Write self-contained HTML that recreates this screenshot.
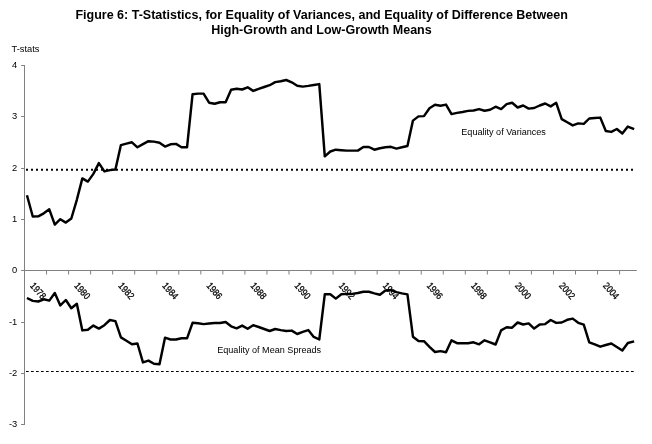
<!DOCTYPE html>
<html><head><meta charset="utf-8"><title>Figure 6</title>
<style>
html,body{margin:0;padding:0;background:#fff;}
body{width:652px;height:444px;overflow:hidden;font-family:"Liberation Sans",sans-serif;}
svg{display:block;}
text{font-family:"Liberation Sans",sans-serif;fill:#000;}
.t{font-weight:bold;font-size:12.52px;text-anchor:middle;}
.l{font-size:9.08px;}
.l2{font-size:9.3px;}
.n{font-size:8.5px;text-anchor:end;}
.x{font-size:8.5px;}
</style></head><body>
<svg width="652" height="444" viewBox="0 0 652 444">
<rect width="652" height="444" fill="#fff"/>
<text class="t" x="321.6" y="18.9">Figure 6: T-Statistics, for Equality of Variances, and Equality of Difference Between</text>
<text class="t" x="321.5" y="33.7">High-Growth and Low-Growth Means</text>
<text class="l2" x="11.5" y="52">T-stats</text>
<g stroke="#808080" stroke-width="1" fill="none">
<line x1="24.5" y1="65.0" x2="24.5" y2="425.0"/>
<line x1="24.0" y1="270.5" x2="636.8" y2="270.5"/>
<line x1="21.1" y1="424.5" x2="24.5" y2="424.5"/>
<line x1="21.1" y1="373.5" x2="24.5" y2="373.5"/>
<line x1="21.1" y1="322.5" x2="24.5" y2="322.5"/>
<line x1="21.1" y1="270.5" x2="24.5" y2="270.5"/>
<line x1="21.1" y1="219.5" x2="24.5" y2="219.5"/>
<line x1="21.1" y1="168.5" x2="24.5" y2="168.5"/>
<line x1="21.1" y1="116.5" x2="24.5" y2="116.5"/>
<line x1="21.1" y1="65.5" x2="24.5" y2="65.5"/>
<line x1="24.50" y1="270.5" x2="24.50" y2="274.5"/>
<line x1="46.54" y1="270.5" x2="46.54" y2="274.5"/>
<line x1="68.58" y1="270.5" x2="68.58" y2="274.5"/>
<line x1="90.62" y1="270.5" x2="90.62" y2="274.5"/>
<line x1="112.66" y1="270.5" x2="112.66" y2="274.5"/>
<line x1="134.70" y1="270.5" x2="134.70" y2="274.5"/>
<line x1="156.74" y1="270.5" x2="156.74" y2="274.5"/>
<line x1="178.78" y1="270.5" x2="178.78" y2="274.5"/>
<line x1="200.82" y1="270.5" x2="200.82" y2="274.5"/>
<line x1="222.86" y1="270.5" x2="222.86" y2="274.5"/>
<line x1="244.90" y1="270.5" x2="244.90" y2="274.5"/>
<line x1="266.94" y1="270.5" x2="266.94" y2="274.5"/>
<line x1="288.98" y1="270.5" x2="288.98" y2="274.5"/>
<line x1="311.02" y1="270.5" x2="311.02" y2="274.5"/>
<line x1="333.06" y1="270.5" x2="333.06" y2="274.5"/>
<line x1="355.10" y1="270.5" x2="355.10" y2="274.5"/>
<line x1="377.14" y1="270.5" x2="377.14" y2="274.5"/>
<line x1="399.18" y1="270.5" x2="399.18" y2="274.5"/>
<line x1="421.22" y1="270.5" x2="421.22" y2="274.5"/>
<line x1="443.26" y1="270.5" x2="443.26" y2="274.5"/>
<line x1="465.30" y1="270.5" x2="465.30" y2="274.5"/>
<line x1="487.34" y1="270.5" x2="487.34" y2="274.5"/>
<line x1="509.38" y1="270.5" x2="509.38" y2="274.5"/>
<line x1="531.42" y1="270.5" x2="531.42" y2="274.5"/>
<line x1="553.46" y1="270.5" x2="553.46" y2="274.5"/>
<line x1="575.50" y1="270.5" x2="575.50" y2="274.5"/>
<line x1="597.54" y1="270.5" x2="597.54" y2="274.5"/>
<line x1="619.58" y1="270.5" x2="619.58" y2="274.5"/>
</g>
<text class="n" transform="translate(17.3,427.2) scale(1.1,1)">-3</text>
<text class="n" transform="translate(17.3,376.2) scale(1.1,1)">-2</text>
<text class="n" transform="translate(17.3,325.2) scale(1.1,1)">-1</text>
<text class="n" transform="translate(17.3,273.2) scale(1.1,1)">0</text>
<text class="n" transform="translate(17.3,222.2) scale(1.1,1)">1</text>
<text class="n" transform="translate(17.3,171.2) scale(1.1,1)">2</text>
<text class="n" transform="translate(17.3,119.2) scale(1.1,1)">3</text>
<text class="n" transform="translate(17.3,68.2) scale(1.1,1)">4</text>
<text class="x" transform="translate(29.6,286.0) rotate(48.5) scale(0.98,1.14)" stroke="#000" stroke-width="0.25">1978</text>
<text class="x" transform="translate(73.7,286.0) rotate(48.5) scale(0.98,1.14)" stroke="#000" stroke-width="0.25">1980</text>
<text class="x" transform="translate(117.8,286.0) rotate(48.5) scale(0.98,1.14)" stroke="#000" stroke-width="0.25">1982</text>
<text class="x" transform="translate(161.8,286.0) rotate(48.5) scale(0.98,1.14)" stroke="#000" stroke-width="0.25">1984</text>
<text class="x" transform="translate(205.9,286.0) rotate(48.5) scale(0.98,1.14)" stroke="#000" stroke-width="0.25">1986</text>
<text class="x" transform="translate(250.0,286.0) rotate(48.5) scale(0.98,1.14)" stroke="#000" stroke-width="0.25">1988</text>
<text class="x" transform="translate(294.1,286.0) rotate(48.5) scale(0.98,1.14)" stroke="#000" stroke-width="0.25">1990</text>
<text class="x" transform="translate(338.2,286.0) rotate(48.5) scale(0.98,1.14)" stroke="#000" stroke-width="0.25">1992</text>
<text class="x" transform="translate(382.2,286.0) rotate(48.5) scale(0.98,1.14)" stroke="#000" stroke-width="0.25">1994</text>
<text class="x" transform="translate(426.3,286.0) rotate(48.5) scale(0.98,1.14)" stroke="#000" stroke-width="0.25">1996</text>
<text class="x" transform="translate(470.4,286.0) rotate(48.5) scale(0.98,1.14)" stroke="#000" stroke-width="0.25">1998</text>
<text class="x" transform="translate(514.5,286.0) rotate(48.5) scale(0.98,1.14)" stroke="#000" stroke-width="0.25">2000</text>
<text class="x" transform="translate(558.6,286.0) rotate(48.5) scale(0.98,1.14)" stroke="#000" stroke-width="0.25">2002</text>
<text class="x" transform="translate(602.6,286.0) rotate(48.5) scale(0.98,1.14)" stroke="#000" stroke-width="0.25">2004</text>
<line x1="26" y1="169.8" x2="636" y2="169.8" stroke="#000" stroke-width="2" stroke-dasharray="2 3"/>
<line x1="26" y1="371.5" x2="636" y2="371.5" stroke="#000" stroke-width="1" stroke-dasharray="2.7 2.3"/>
<polyline points="26.95,195.2 32.76,216.5 38.27,216.3 43.78,213.3 49.29,209.3 54.80,224.6 60.31,219.2 65.82,222.6 71.33,218.5 76.84,199.8 82.35,178.4 87.86,181.6 93.37,173.9 98.88,163.1 104.39,171.4 109.90,170.1 115.41,169.5 120.92,145.1 126.43,143.6 131.94,142.3 137.45,147.3 142.96,144.1 148.47,141.2 153.98,141.6 159.49,142.7 165.00,146.6 170.51,144.3 176.02,143.9 181.53,147.3 187.04,147.3 192.55,94.3 198.06,93.6 203.57,93.6 209.08,102.7 214.59,103.8 220.10,102.2 225.61,102.3 231.12,89.7 236.63,88.8 242.14,89.5 247.65,87.3 253.16,90.9 258.67,88.8 264.18,87.0 269.69,85.2 275.20,82.1 280.71,81.2 286.22,80.0 291.73,82.3 297.24,85.7 302.75,86.6 308.26,85.9 313.77,85.0 319.28,84.1 324.79,156.3 330.30,151.5 335.81,149.7 341.32,150.2 346.83,150.6 352.34,150.6 357.85,150.6 363.36,147.0 368.87,147.0 374.38,149.7 379.89,148.2 385.40,147.3 390.91,146.8 396.42,148.6 401.93,147.3 407.44,146.0 412.95,120.6 418.46,116.4 423.97,116.1 429.48,108.2 434.99,104.8 440.50,105.7 446.01,104.6 451.52,114.1 457.03,112.9 462.54,112.0 468.05,110.9 473.56,110.5 479.07,109.1 484.58,110.7 490.09,109.8 495.60,106.7 501.11,109.1 506.62,104.1 512.13,102.8 517.64,107.5 523.15,105.5 528.66,108.6 534.17,108.0 539.68,105.5 545.19,103.5 550.70,106.4 556.21,102.8 561.72,119.1 567.23,122.3 572.74,125.4 578.25,123.4 583.76,123.9 589.27,118.5 594.78,118.0 600.29,117.6 605.80,131.0 611.31,131.9 616.82,129.0 622.33,133.5 627.84,126.6 634.15,129.1" fill="none" stroke="#000" stroke-width="2.45" stroke-linejoin="round" stroke-linecap="butt"/>
<polyline points="26.95,298.0 32.76,300.9 38.27,301.5 43.78,299.3 49.29,300.6 54.80,293.0 60.31,305.4 65.82,300.0 71.33,308.3 76.84,303.8 82.35,330.4 87.86,329.7 93.37,325.6 98.88,328.6 104.39,325.2 109.90,320.0 115.41,321.1 120.92,337.4 126.43,340.8 131.94,344.2 137.45,343.5 142.96,362.4 148.47,360.6 153.98,363.8 159.49,364.2 165.00,337.7 170.51,339.5 176.02,339.5 181.53,338.3 187.04,338.3 192.55,322.8 198.06,323.2 203.57,324.1 209.08,323.5 214.59,323.0 220.10,323.0 225.61,322.0 231.12,326.3 236.63,328.3 242.14,325.6 247.65,328.8 253.16,325.2 258.67,327.0 264.18,329.0 269.69,331.0 275.20,329.0 280.71,330.1 286.22,331.0 291.73,330.6 297.24,334.0 302.75,331.9 308.26,330.1 313.77,336.9 319.28,339.5 324.79,294.3 330.30,294.3 335.81,298.6 341.32,294.3 346.83,293.9 352.34,293.9 357.85,293.0 363.36,291.8 368.87,291.8 374.38,293.4 379.89,294.8 385.40,290.5 390.91,290.0 396.42,292.1 401.93,293.4 407.44,294.4 412.95,336.7 418.46,341.0 423.97,341.2 429.48,346.8 434.99,352.0 440.50,351.1 446.01,352.2 451.52,340.3 457.03,343.2 462.54,343.2 468.05,343.2 473.56,342.3 479.07,344.3 484.58,340.3 490.09,342.3 495.60,344.5 501.11,330.4 506.62,327.3 512.13,327.7 517.64,322.5 523.15,324.5 528.66,323.4 534.17,328.6 539.68,324.5 545.19,324.1 550.70,320.0 556.21,322.9 561.72,322.5 567.23,319.8 572.74,318.6 578.25,322.8 583.76,324.7 589.27,342.3 594.78,344.4 600.29,346.7 605.80,345.0 611.31,343.5 616.82,347.0 622.33,350.5 627.84,343.0 634.15,341.4" fill="none" stroke="#000" stroke-width="2.45" stroke-linejoin="round" stroke-linecap="butt"/>
<text class="l" x="461.3" y="135">Equality of Variances</text>
<text class="l" x="217.2" y="353">Equality of Mean Spreads</text>
</svg>
</body></html>
